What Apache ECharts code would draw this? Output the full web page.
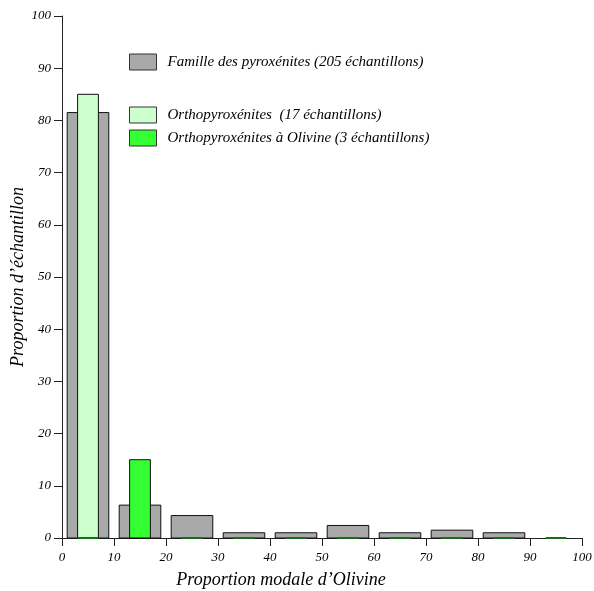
<!DOCTYPE html>
<html>
<head>
<meta charset="utf-8">
<script src="https://cdn.jsdelivr.net/npm/echarts@6/dist/echarts.min.js"></script>
<style>html,body{margin:0;padding:0;background:#fff}#c{width:594px;height:591px}</style>
</head>
<body>
<div id="c"></div>
<script>
var binStarts = [0, 10, 20, 30, 40, 50, 60, 70, 80, 90];
var pyroxenites = [81.5, 6.3, 4.3, 1.0, 1.0, 2.4, 1.0, 1.5, 1.0, 0];
var orthopyroxenites = [85, 0, 0, 0, 0, 0, 0, 0, 0, 0];
var orthoOlivine = [0, 15, 0, 0, 0, 0, 0, 0, 0, 0];
var xTicks = [0, 10, 20, 30, 40, 50, 60, 70, 80, 90, 100];
var yTicks = [0, 10, 20, 30, 40, 50, 60, 70, 80, 90, 100];
var names = ['Famille des pyroxénites (205 échantillons)', 'Orthopyroxénites  (17 échantillons)', 'Orthopyroxénites à Olivine (3 échantillons)'];

var FONT = '"Liberation Serif", "DejaVu Serif", serif';

function pairs(vals) { return binStarts.map(function (b, i) { return [b, vals[i]]; }); }

function makeRender(offL, offR, zeroStroke) {
  return function (params, api) {
    var x0 = api.value(0), v = api.value(1);
    var p1 = api.coord([x0 + offL, v]);
    var p2 = api.coord([x0 + offR, 0]);
    if (v === 0) {
      if (!zeroStroke) return null;
      return { type: 'line', shape: { x1: p1[0], y1: p2[1], x2: p2[0], y2: p2[1] }, style: { stroke: zeroStroke, lineWidth: 2 } };
    }
    return { type: 'rect', shape: { x: p1[0], y: p1[1], width: p2[0] - p1[0], height: p2[1] - p1[1] }, style: api.style() };
  };
}

var chart = echarts.init(document.getElementById('c'), null, { renderer: 'canvas' });
var axisCommon = {
  type: 'value', min: 0, max: 100, interval: 10,
  axisLine: { show: true, lineStyle: { color: '#222', width: 1 } },
  axisTick: { show: true, inside: false, length: 8, lineStyle: { color: '#222' } },
  splitLine: { show: false },
  axisLabel: { fontFamily: FONT, fontStyle: 'italic', fontSize: 13, color: '#000' },
  nameTextStyle: { fontFamily: FONT, fontStyle: 'italic', fontSize: 18, color: '#000' },
  nameMoveOverlap: false
};
var legendText = { fontFamily: FONT, fontStyle: 'italic', fontSize: 15, color: '#000', lineHeight: 16, padding: [2, 0, 0, 6] };
chart.setOption({
  animation: false,
  backgroundColor: '#fff',
  grid: { left: 62, right: 12, top: 16, bottom: 53, containLabel: false, outerBoundsMode: 'none' },
  xAxis: Object.assign({}, axisCommon, {
    name: 'Proportion modale d’Olivine', nameLocation: 'middle', nameGap: 33,
    nameTextStyle: Object.assign({}, axisCommon.nameTextStyle, { padding: [0, 82, 0, 0] }),
    axisLabel: Object.assign({}, axisCommon.axisLabel, { margin: 13 })
  }),
  yAxis: Object.assign({}, axisCommon, {
    name: 'Proportion d’échantillon', nameLocation: 'middle', nameGap: 35,
    axisLabel: Object.assign({}, axisCommon.axisLabel, { margin: 11, padding: [2, 0, 0, 0] })
  }),
  legend: [
    { data: [names[0]], left: 129, top: 53, padding: 0, orient: 'vertical', icon: 'rect', itemWidth: 27, itemHeight: 16, itemGap: 5,
      itemStyle: { borderWidth: 1, borderColor: '#333' },
      textStyle: legendText, selectedMode: false },
    { data: [names[1], names[2]], left: 129, top: 106, padding: 0, orient: 'vertical', icon: 'rect', itemWidth: 27, itemHeight: 16, itemGap: 5,
      itemStyle: { borderWidth: 1, borderColor: '#333' },
      textStyle: legendText, selectedMode: false }
  ],
  series: [
    { type: 'custom', name: names[0], renderItem: makeRender(1, 9, null), data: pairs(pyroxenites), encode: { x: 0, y: 1 },
      itemStyle: { color: '#a9a9a9', borderColor: '#111', borderWidth: 1 } },
    { type: 'custom', name: names[1], renderItem: makeRender(3, 7, null), data: pairs(orthopyroxenites), encode: { x: 0, y: 1 },
      itemStyle: { color: '#ccffcc', borderColor: '#111', borderWidth: 1 } },
    { type: 'custom', name: names[2], renderItem: makeRender(3, 7, '#1c6b1c'), data: pairs(orthoOlivine), encode: { x: 0, y: 1 },
      itemStyle: { color: '#33ff33', borderColor: '#111', borderWidth: 1 } }
  ]
});
</script>
</body>
</html>
